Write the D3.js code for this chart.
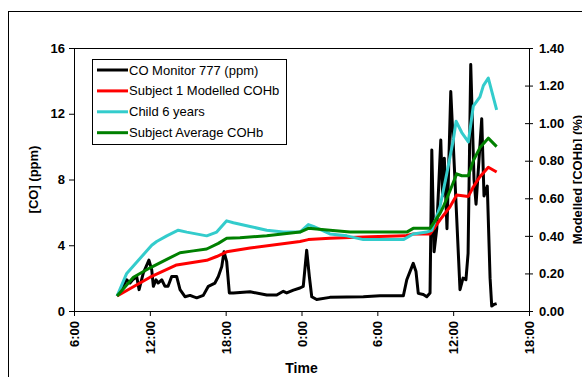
<!DOCTYPE html>
<html>
<head>
<meta charset="utf-8">
<script src="https://cdn.jsdelivr.net/npm/d3@7"></script>
<style>
  body { margin: 0; background: #fff; }
  svg { display: block; font-family: Arial, "Liberation Sans", sans-serif; }
  .tick text { font-weight: bold; font-size: 13px; fill: #000; }
  .axis path, .axis line { stroke: #000; }
</style>
</head>
<body>
<svg id="chart" width="582" height="377"></svg>
<script>
// hours after 6:00 on day one
var timeTicks = [0, 6, 12, 18, 24, 30, 36];
var timeLabels = ["6:00", "12:00", "18:00", "0:00", "6:00", "12:00", "18:00"];
var coTicks = [0, 4, 8, 12, 16];
var cohbTicks = [0, 0.2, 0.4, 0.6, 0.8, 1.0, 1.2, 1.4];

var seriesNames = ["CO Monitor 777 (ppm)", "Subject 1 Modelled COHb", "Child 6 years", "Subject Average COHb"];
var seriesColors = ["#000000", "#ff0000", "#33cccc", "#008000"];

// CO monitor, ppm (left axis)
var coMonitor = [
  [3.41, 0.9], [4.17, 1.9], [4.43, 1.7], [4.64, 1.9], [4.96, 2.1], [5.15, 1.3], [5.48, 2.3],
  [5.93, 3.1], [6.15, 2.5], [6.28, 1.5], [6.49, 1.9], [6.65, 1.7], [6.94, 1.9], [7.20, 1.5],
  [7.44, 1.5], [7.73, 2.1], [8.12, 2.1], [8.39, 1.3], [8.78, 0.87], [9.18, 0.95],
  [9.44, 0.87], [9.71, 0.8], [10.23, 0.95], [10.63, 1.5], [11.15, 1.7], [11.42, 2.1],
  [11.69, 2.7], [11.87, 3.6], [12.08, 3.0], [12.29, 1.1], [12.61, 1.1], [13.93, 1.17],
  [15.25, 0.97], [16.04, 0.97], [16.56, 1.2], [16.83, 1.1], [17.36, 1.27], [17.88, 1.4],
  [18.14, 1.5], [18.41, 3.7], [18.62, 2.1], [18.81, 0.87], [19.20, 0.7], [20.25, 0.83],
  [21.58, 0.85], [22.89, 0.87], [24.21, 0.93], [26.06, 0.93], [26.33, 1.9], [26.84, 2.9],
  [27.06, 2.4], [27.24, 1.07], [27.64, 1.0], [27.91, 0.87], [28.17, 1.1], [28.31, 9.8],
  [28.49, 3.6], [28.70, 5.0], [29.02, 10.4], [29.16, 7.0], [29.30, 9.3], [29.51, 5.0],
  [29.81, 13.35], [30.14, 8.0], [30.54, 1.3], [30.78, 2.0], [31.01, 1.9], [31.18, 3.5],
  [31.39, 15.0], [31.65, 8.0], [31.81, 6.5], [32.26, 11.7], [32.44, 7.0], [32.70, 7.6],
  [32.92, 2.0], [33.05, 0.3], [33.23, 0.4], [33.44, 0.45]
];

// modelled COHb, % (right axis)
var subject1 = [
  [3.41, 0.08], [6.02, 0.18], [8.12, 0.245], [10.5, 0.27], [11.29, 0.29], [12.08, 0.315],
  [13.93, 0.335], [17.88, 0.37], [18.54, 0.38], [20.25, 0.387], [23.42, 0.395], [26.19, 0.40],
  [26.84, 0.41], [28.17, 0.41], [28.96, 0.485], [29.75, 0.555], [30.28, 0.617], [31.2, 0.61],
  [31.59, 0.66], [32.12, 0.715], [32.78, 0.765], [33.44, 0.74]
];

var child6 = [
  [3.41, 0.08], [4.17, 0.20], [6.15, 0.35], [6.54, 0.37], [7.34, 0.40], [8.25, 0.43],
  [8.92, 0.42], [10.5, 0.40], [11.29, 0.42], [12.08, 0.48], [12.61, 0.47], [13.93, 0.45],
  [15.25, 0.43], [16.56, 0.42], [17.88, 0.42], [18.54, 0.46], [18.94, 0.45], [20.25, 0.41],
  [21.58, 0.40], [22.89, 0.38], [24.74, 0.38], [26.06, 0.38], [26.84, 0.41], [27.91, 0.42],
  [28.31, 0.43], [28.96, 0.555], [29.49, 0.73], [30.01, 0.91], [30.23, 1.01], [30.68, 0.95],
  [31.2, 0.90], [31.59, 1.09], [32.12, 1.14], [32.39, 1.20], [32.78, 1.24], [33.44, 1.07]
];

var subjectAvg = [
  [3.41, 0.08], [4.70, 0.18], [6.02, 0.23], [7.34, 0.275], [8.39, 0.31], [9.44, 0.32],
  [10.5, 0.33], [11.42, 0.36], [12.08, 0.387], [13.13, 0.39], [15.25, 0.40], [17.88, 0.42],
  [18.54, 0.44], [20.25, 0.43], [21.84, 0.42], [26.33, 0.42], [26.84, 0.44], [28.17, 0.44],
  [28.96, 0.52], [29.22, 0.555], [29.75, 0.64], [30.28, 0.73], [30.68, 0.72], [31.2, 0.72],
  [31.59, 0.80], [32.12, 0.87], [32.78, 0.92], [33.44, 0.875]
];

var plot = { left: 74, right: 529, top: 48, bottom: 311 };

var svg = d3.select("#chart");

// outer chart frame (runs past the right and bottom edges)
svg.append("rect")
  .attr("x", 8.5).attr("y", 11.5)
  .attr("width", 640).attr("height", 420)
  .attr("fill", "none").attr("stroke", "#000");

var x = d3.scaleLinear().domain([0, 36]).range([plot.left, plot.right]);
var yCO = d3.scaleLinear().domain([0, 16]).range([plot.bottom, plot.top]);
var yHb = d3.scaleLinear().domain([0, 1.4]).range([plot.bottom, plot.top]);

// plot area top border
svg.append("line")
  .attr("x1", plot.left).attr("x2", plot.right)
  .attr("y1", plot.top + 0.5).attr("y2", plot.top + 0.5)
  .attr("stroke", "#000");

var xAxis = d3.axisBottom(x)
  .tickValues(timeTicks)
  .tickFormat(function (d, i) { return timeLabels[i]; })
  .tickSizeOuter(0).tickSize(5);

var gx = svg.append("g")
  .attr("class", "axis")
  .attr("transform", "translate(0," + plot.bottom + ")")
  .call(xAxis);
gx.selectAll(".tick text")
  .attr("transform", "rotate(-90)")
  .attr("text-anchor", "end")
  .attr("x", -10).attr("y", 0).attr("dy", "0.35em");

svg.append("g")
  .attr("class", "axis")
  .attr("transform", "translate(" + plot.left + ",0)")
  .call(d3.axisLeft(yCO).tickValues(coTicks).tickSizeOuter(0).tickSize(5).tickPadding(4));

var gyr = svg.append("g")
  .attr("class", "axis")
  .attr("transform", "translate(" + plot.right + ",0)")
  .call(d3.axisRight(yHb).tickValues(cohbTicks).tickFormat(d3.format(".2f"))
    .tickSizeOuter(0).tickSize(4).tickPadding(6));
// right ticks cross the axis
gyr.selectAll(".tick line").attr("x1", -4);

// series
var series = [
  { data: coMonitor, y: yCO },
  { data: subject1, y: yHb },
  { data: child6, y: yHb },
  { data: subjectAvg, y: yHb }
];

series.forEach(function (s, i) {
  var line = d3.line()
    .x(function (d) { return x(d[0]); })
    .y(function (d) { return s.y(d[1]); });
  svg.append("path")
    .datum(s.data)
    .attr("d", line)
    .attr("fill", "none")
    .attr("stroke", seriesColors[i])
    .attr("stroke-width", 3)
    .attr("stroke-linejoin", "round");
});

// axis titles
svg.append("text")
  .attr("transform", "translate(38," + ((plot.top + plot.bottom) / 2) + ") rotate(-90)")
  .attr("text-anchor", "middle")
  .style("font-weight", "bold").style("font-size", "13px")
  .text("[CO] (ppm)");

svg.append("text")
  .attr("transform", "translate(582," + ((plot.top + plot.bottom) / 2) + ") rotate(-90)")
  .attr("text-anchor", "middle")
  .style("font-weight", "bold").style("font-size", "13px")
  .text("Modelled [COHb] (%)");

svg.append("text")
  .attr("x", (plot.left + plot.right) / 2).attr("y", 373)
  .attr("text-anchor", "middle")
  .style("font-weight", "bold").style("font-size", "14px")
  .text("Time");

// legend
var legend = svg.append("g").attr("transform", "translate(92,59)");
legend.append("rect")
  .attr("x", 0.5).attr("y", 0.5)
  .attr("width", 194).attr("height", 85)
  .attr("fill", "#fff").attr("stroke", "#000");

var row = legend.selectAll(".row")
  .data(seriesNames)
  .enter().append("g")
  .attr("transform", function (d, i) { return "translate(0," + (11 + i * 20.9) + ")"; });
row.append("line")
  .attr("x1", 5).attr("x2", 36)
  .attr("stroke", function (d, i) { return seriesColors[i]; })
  .attr("stroke-width", 3);
row.append("text")
  .attr("x", 37).attr("dy", "0.35em")
  .style("font-size", "13px")
  .text(function (d) { return d; });
</script>
</body>
</html>
